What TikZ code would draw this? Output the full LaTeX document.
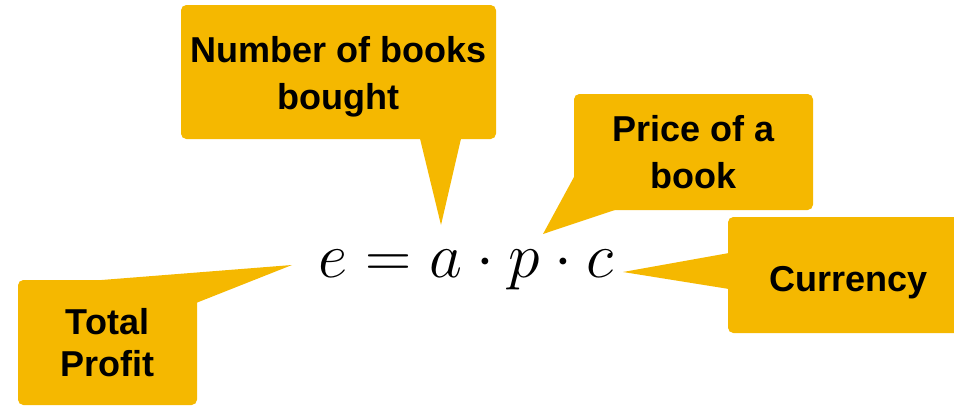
\RequirePackage{fix-cm}
\documentclass[tikz,border=0pt]{standalone}
\usepackage[no-math]{fontspec}
\newfontfamily\notefont{Liberation Sans}
\usepackage{tikz}
\usetikzlibrary{calc}
\definecolor{calloutgold}{HTML}{F5B800}

\begin{document}
\begin{tikzpicture}[x=0.75pt,y=-0.75pt,
  note/.style={fill=calloutgold,rounded corners=4pt,align=center,inner sep=0pt,
    font=\notefont\fontsize{27}{35}\selectfont\bfseries}]
\useasboundingbox (0,0) rectangle (954,407);
\clip (0,0) rectangle (954,407);
\node[anchor=base,inner sep=0pt,font=\fontsize{48}{50}\selectfont] (eq) at (466,277) {$e = a \cdot p \cdot c$};
\coordinate (tipe) at (292,265);
\coordinate (tipa) at (441,225);
\coordinate (tipp) at (543,234);
\coordinate (tipc) at (623,272);
\node[note,minimum width=236.25pt,minimum height=100.5pt,text height=62.2pt] (books) at (338.5,72) {Number of books\\bought};
\node[note,minimum width=179.25pt,minimum height=87pt] (price) at (693.5,152) {Price of a\\book};
\node[note,minimum width=134.25pt,minimum height=93.75pt] (profit) at (107.5,342.5) {Total\\[-3pt]Profit};
\node[note,minimum width=180.75pt,minimum height=87pt,text height=31pt] (currency) at (848.5,275) {Currency};
\fill[calloutgold] ([xshift=61pt,yshift=1pt]books.south) -- (tipa) -- ([xshift=92pt,yshift=1pt]books.south) -- cycle;
\fill[calloutgold] ([xshift=1pt,yshift=-17.25pt]price.west) -- (tipp) -- ([xshift=-56.6pt,yshift=1pt]price.south) -- cycle;
\fill[calloutgold] ([xshift=-14.6pt,yshift=-1pt]profit.north) -- (tipe) -- ([xshift=-1pt,yshift=29.6pt]profit.east) -- cycle;
\fill[calloutgold] ([xshift=1pt,yshift=16.5pt]currency.west) -- (tipc) -- ([xshift=1pt,yshift=-10.5pt]currency.west) -- cycle;
\end{tikzpicture}
\end{document}
